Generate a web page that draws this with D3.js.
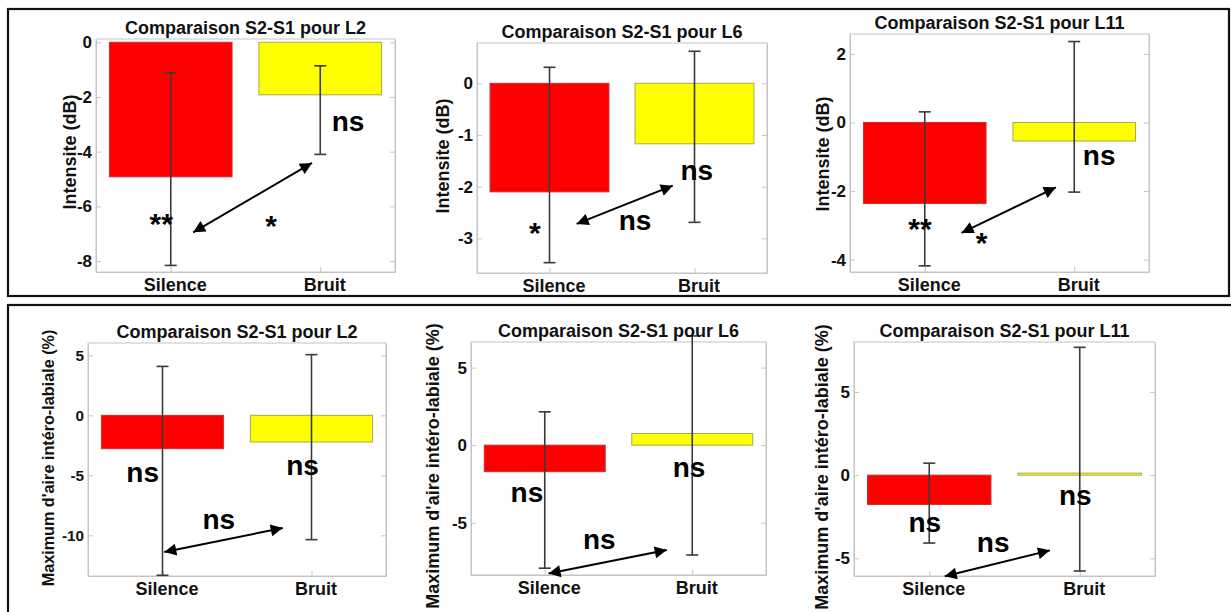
<!DOCTYPE html>
<html>
<head>
<meta charset="utf-8">
<script src="https://cdn.jsdelivr.net/npm/d3@7"></script>
<style>
  body { margin: 0; background: #fff; }
  svg { display: block; font-family: "Liberation Sans", Arial, Helvetica, sans-serif; }
</style>
</head>
<body>
<script>
// data
const categories = ["Silence", "Bruit"];
const panelTitles = ["Comparaison S2-S1 pour L2", "Comparaison S2-S1 pour L6", "Comparaison S2-S1 pour L11",
                     "Comparaison S2-S1 pour L2", "Comparaison S2-S1 pour L6", "Comparaison S2-S1 pour L11"];
const yLabels = ["Intensite (dB)", "Intensite (dB)", "Intensite (dB)",
                 "Maximum d'aire intéro-labiale (%)", "Maximum d'aire intéro-labiale (%)", "Maximum d'aire intéro-labiale (%)"];
const barMeans = [[-4.92, -1.92], [-2.10, -1.17], [-2.36, -0.54], [-2.78, -2.22], [-1.71, 0.75], [-1.76, 0.12]];
const errLow  = [[-8.16, -4.10], [-3.47, -2.69], [-4.18, -2.03], [-13.33, -10.36], [-7.93, -7.08], [-4.08, -5.76]];
const errHigh = [[-1.12, -0.86], [0.31, 0.62], [0.31, 2.36], [4.08, 5.06], [2.15, 7.04], [0.72, 7.68]];
const yDomains = [[-8.4, 0.12], [-3.67, 0.78], [-4.36, 2.58], [-13.39, 6.03], [-8.37, 6.65], [-6.06, 8.0]];
const yTicks = [[-8, -6, -4, -2, 0], [-3, -2, -1, 0], [-4, -2, 0, 2], [-10, -5, 0, 5], [-5, 0, 5], [-5, 0, 5]];
// significance marks: [text, x (category units), y (data units)]
const marks = [
  [["**", 0.936, -7.02], ["*", 1.671, -7.09], ["ns", 2.186, -3.23]],
  [["*", 0.899, -3.08], ["ns", 1.590, -2.83], ["ns", 2.016, -1.88]],
  [["**", 0.968, -3.39], ["*", 1.380, -3.82], ["ns", 2.167, -1.24]],
  [["ns", 0.867, -5.56], ["ns", 1.940, -5.0], ["ns", 1.378, -9.44]],
  [["ns", 0.879, -3.69], ["ns", 1.978, -2.03], ["ns", 1.370, -6.69]],
  [["ns", 0.970, -3.42], ["ns", 1.970, -1.82], ["ns", 1.425, -4.62]]
];
// comparison arrows: [x1, y1, x2, y2]
const arrows = [
  [1.150, -6.95, 1.945, -4.41],
  [1.187, -2.72, 1.850, -1.98],
  [1.246, -3.22, 1.877, -1.89],
  [1.012, -11.39, 1.807, -9.39],
  [1.026, -8.28, 1.827, -6.76],
  [1.103, -6.08, 1.802, -4.52]
];

// layout of each axes box (px)
const layout = [
  {left: 96, right: 395, top: 39, bottom: 272, labelX: 70, labelY: 152, fs: 1},
  {left: 477, right: 767, top: 43, bottom: 273, labelX: 443, labelY: 156, fs: 1},
  {left: 850, right: 1149, top: 34, bottom: 272, labelX: 823, labelY: 154, fs: 1},
  {left: 88, right: 386, top: 343, bottom: 576, labelX: 48, labelY: 458, fs: 0.9},
  {left: 471, right: 766, top: 342, bottom: 575, labelX: 433, labelY: 466, fs: 1},
  {left: 854, right: 1155, top: 342, bottom: 576, labelX: 822, labelY: 467, fs: 1}
];

const colors = ["#ff0000", "#ffff00"];
const edgeColors = ["#c83030", "#a8a850"];
const frameColor = "#c4c4c4";
const barWidth = 0.82;

const svg = d3.select("body").append("svg")
  .attr("width", 1231)
  .attr("height", 612);

svg.append("rect").attr("width", 1231).attr("height", 612).attr("fill", "#fff");

const defs = svg.append("defs");
defs.append("marker")
  .attr("id", "head")
  .attr("viewBox", "0 0 10 10")
  .attr("refX", 10)
  .attr("refY", 5)
  .attr("markerUnits", "userSpaceOnUse")
  .attr("markerWidth", 15)
  .attr("markerHeight", 12)
  .attr("orient", "auto-start-reverse")
  .append("path")
  .attr("d", "M0,0L10,5L0,10Z")
  .attr("fill", "#000");

// outer boxes
svg.append("rect")
  .attr("x", 8).attr("y", 9).attr("width", 1221).attr("height", 287)
  .attr("fill", "none").attr("stroke", "#111").attr("stroke-width", 2.2);
svg.append("rect")
  .attr("x", 8).attr("y", 305).attr("width", 1240).attr("height", 330)
  .attr("fill", "none").attr("stroke", "#111").attr("stroke-width", 2.2);

layout.forEach((L, p) => {
  const x = d3.scaleLinear().domain([0.5, 2.5]).range([L.left, L.right]);
  const y = d3.scaleLinear().domain(yDomains[p]).range([L.bottom, L.top]);
  const g = svg.append("g");

  // bars
  g.selectAll(".bar")
    .data(barMeans[p])
    .enter()
    .append("rect")
    .attr("x", (d, i) => x(i + 1 - barWidth / 2))
    .attr("width", x(1 + barWidth) - x(1))
    .attr("y", d => y(Math.max(0, d)))
    .attr("height", d => Math.abs(y(d) - y(0)))
    .attr("fill", (d, i) => colors[i])
    .attr("stroke", (d, i) => edgeColors[i])
    .attr("stroke-width", 1);

  // frame
  g.append("rect")
    .attr("x", L.left).attr("y", L.top)
    .attr("width", L.right - L.left).attr("height", L.bottom - L.top)
    .attr("fill", "none").attr("stroke", frameColor).attr("stroke-width", 1);

  // axes
  const yAxis = g.append("g")
    .attr("transform", `translate(${L.left},0)`)
    .call(d3.axisLeft(y).tickValues(yTicks[p]).tickSizeInner(-5).tickSizeOuter(0).tickPadding(4)
      .tickFormat(d => String(d)));
  yAxis.selectAll("text")
    .style("font-size", (17 * L.fs) + "px").style("font-weight", "bold").attr("fill", "#111");

  const yRight = g.append("g")
    .attr("transform", `translate(${L.right},0)`)
    .call(d3.axisRight(y).tickValues(yTicks[p]).tickSizeInner(-5).tickSizeOuter(0).tickFormat(""));

  const xAxis = g.append("g")
    .attr("transform", `translate(0,${L.bottom})`)
    .call(d3.axisBottom(x).tickValues([1, 2]).tickSizeInner(-5).tickSizeOuter(0).tickPadding(6)
      .tickFormat(d => categories[d - 1]));
  xAxis.selectAll("text")
    .attr("dx", 4)
    .style("font-size", "18px").style("font-weight", "bold").attr("fill", "#111");

  [yAxis, yRight, xAxis].forEach(a => {
    a.select(".domain").attr("stroke", frameColor);
    a.selectAll(".tick line").attr("stroke", frameColor);
  });

  // error bars
  const eb = g.selectAll(".err")
    .data(barMeans[p])
    .enter()
    .append("g")
    .attr("stroke", "#3a3a3a")
    .attr("stroke-width", 1.6);
  eb.append("line")
    .attr("x1", (d, i) => x(i + 1)).attr("x2", (d, i) => x(i + 1))
    .attr("y1", (d, i) => y(errLow[p][i])).attr("y2", (d, i) => y(errHigh[p][i]));
  eb.append("line")
    .attr("x1", (d, i) => x(i + 1) - 6).attr("x2", (d, i) => x(i + 1) + 6)
    .attr("y1", (d, i) => y(errLow[p][i])).attr("y2", (d, i) => y(errLow[p][i]));
  eb.append("line")
    .attr("x1", (d, i) => x(i + 1) - 6).attr("x2", (d, i) => x(i + 1) + 6)
    .attr("y1", (d, i) => y(errHigh[p][i])).attr("y2", (d, i) => y(errHigh[p][i]));

  // title
  g.append("text")
    .attr("x", (L.left + L.right) / 2)
    .attr("y", L.top - 5)
    .attr("text-anchor", "middle")
    .style("font-size", "18px")
    .style("font-weight", "bold")
    .attr("fill", "#111")
    .text(panelTitles[p]);

  // y label
  g.append("text")
    .attr("transform", `translate(${L.labelX},${L.labelY}) rotate(-90)`)
    .attr("text-anchor", "middle")
    .attr("dy", "0.35em")
    .style("font-size", (18 * L.fs) + "px")
    .style("font-weight", "bold")
    .attr("fill", "#111")
    .text(yLabels[p]);

  // comparison arrow
  const a = arrows[p];
  g.append("line")
    .attr("x1", x(a[0])).attr("y1", y(a[1]))
    .attr("x2", x(a[2])).attr("y2", y(a[3]))
    .attr("stroke", "#000")
    .attr("stroke-width", 2)
    .attr("marker-start", "url(#head)")
    .attr("marker-end", "url(#head)");

  // significance marks
  g.selectAll(".mark")
    .data(marks[p])
    .enter()
    .append("text")
    .attr("x", d => x(d[1]))
    .attr("y", d => y(d[2]))
    .attr("text-anchor", "middle")
    .style("font-size", d => d[0] === "ns" ? "28px" : "30px")
    .style("font-weight", "bold")
    .attr("fill", "#000")
    .text(d => d[0]);
});
</script>
</body>
</html>
